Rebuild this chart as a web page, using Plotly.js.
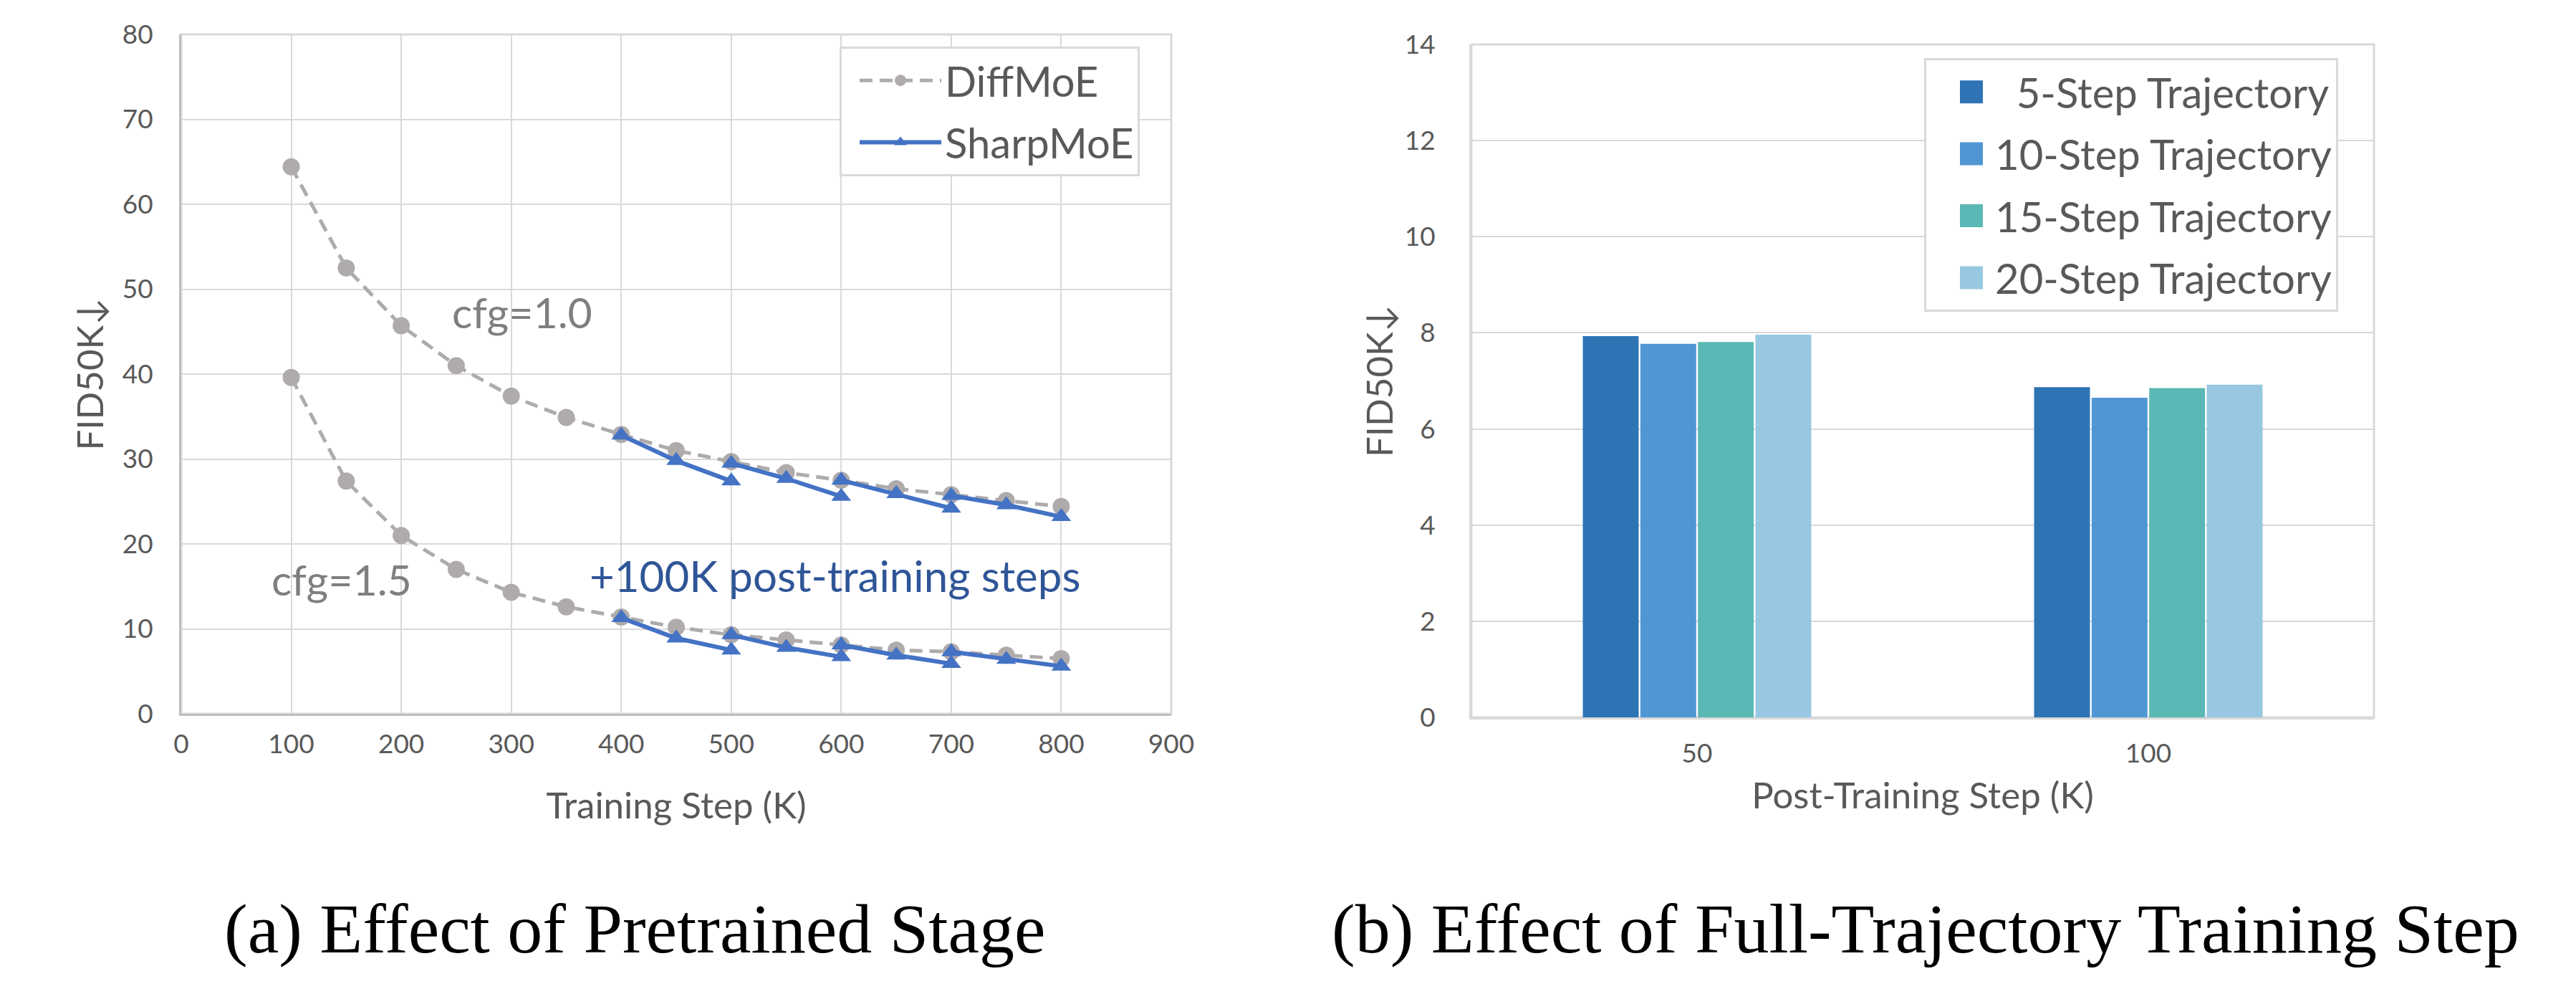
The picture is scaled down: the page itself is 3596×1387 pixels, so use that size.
<!DOCTYPE html>
<html><head><meta charset="utf-8">
<script src="https://cdn.plot.ly/plotly-3.0.1.min.js"></script>
<style>
html,body{margin:0;padding:0;background:#fff}
#chart{width:3596px;height:1387px}
g.legendpoints path[d="M6,6H-6V-6H6Z"]{d:path('M16,16H-16V-16H16Z');}
</style>
</head><body><div id="chart"></div>
<script>
// ---- data: (a) pretrained stage ----
const steps = [100,150,200,250,300,350,400,450,500,550,600,650,700,750,800];
const diffCfg10 = [64.4,52.5,45.7,41.0,37.4,34.9,32.9,31.0,29.7,28.4,27.5,26.5,25.8,25.1,24.4];
const diffCfg15 = [39.6,27.4,21.0,17.0,14.3,12.6,11.4,10.2,9.3,8.7,8.1,7.5,7.3,6.9,6.5];
// SharpMoE: +100K post-training segments starting from the 400/500/600/700K checkpoints
const sharpSteps = [400,450,500,null,500,550,600,null,600,650,700,null,700,750,800];
const sharpCfg10 = [32.8,29.8,27.4,null,29.5,27.7,25.6,null,27.5,25.9,24.2,null,25.7,24.6,23.2];
const sharpCfg15 = [11.3,8.9,7.5,null,9.3,7.8,6.7,null,8.1,6.9,5.9,null,7.3,6.4,5.6];
// ---- data: (b) full-trajectory training step ----
const postSteps = ['50','100'];
const traj5 = [7.93,6.87];
const traj10 = [7.77,6.65];
const traj15 = [7.81,6.85];
const traj20 = [7.96,6.92];
const trajNames = ['\u00A0\u00A05-Step Trajectory','10-Step Trajectory','15-Step Trajectory','20-Step Trajectory'];
const trajColors = ['#2E74B5','#5096D2','#5BB8B4','#98C8E1'];

const GRAY = '#AFABAB', BLUE = '#4472C4', TXT = '#595959';
const FONT = 'Lato, "Open Sans", sans-serif';

const diffStyle = {mode:'lines+markers', line:{color:GRAY, width:5, dash:'18px,10px'},
  marker:{symbol:'circle', size:24, color:GRAY}, xaxis:'x', yaxis:'y', legend:'legend'};
const sharpStyle = {mode:'lines+markers', line:{color:BLUE, width:6}, connectgaps:false,
  marker:{symbol:'triangle-up', size:24, color:BLUE}, xaxis:'x', yaxis:'y', legend:'legend'};

const traces = [
  Object.assign({x:steps, y:diffCfg10, name:'DiffMoE', legendgroup:'d', showlegend:true}, diffStyle),
  Object.assign({x:steps, y:diffCfg15, name:'DiffMoE', legendgroup:'d', showlegend:false}, diffStyle),
  Object.assign({x:sharpSteps, y:sharpCfg10, name:'SharpMoE', legendgroup:'s', showlegend:true}, sharpStyle),
  Object.assign({x:sharpSteps, y:sharpCfg15, name:'SharpMoE', legendgroup:'s', showlegend:false}, sharpStyle)
];
[traj5,traj10,traj15,traj20].forEach((vals,i)=>{
  traces.push({type:'bar', x:postSteps, y:vals, name:trajNames[i], legendgroup:'t'+i,
    marker:{color:trajColors[i]}, xaxis:'x2', yaxis:'y2', legend:'legend2'});
});

const W = 3596, H = 1387;
const tickFont = {family:FONT, size:37, color:TXT};
const titleFont = {family:FONT, size:51, color:TXT};
const capFont = {family:'"Liberation Serif", "Times New Roman", serif', size:98, color:'#000'};

const layout = {
  width:W, height:H, margin:{l:0,r:0,t:0,b:0}, paper_bgcolor:'#fff', plot_bgcolor:'#fff',
  showlegend:true, barmode:'group', bargap:0.49, bargroupgap:0.03,
  xaxis:{domain:[253/W,1635/W], range:[0,900], dtick:100, tick0:0, showgrid:true, gridcolor:'#D9D9D9', gridwidth:2,
    showline:true, linecolor:'#BFBFBF', linewidth:3, zeroline:false, ticks:'', tickfont:tickFont, ticklabelstandoff:8,
    title:{text:'Training Step (K)', font:titleFont, standoff:48}, fixedrange:true},
  yaxis:{domain:[1-996/H,1-48/H], range:[0,80], dtick:10, showgrid:true, gridcolor:'#D9D9D9', gridwidth:2,
    showline:true, linecolor:'#BFBFBF', linewidth:3, zeroline:false, ticks:'', tickfont:tickFont, ticklabelstandoff:29,
    title:{text:'FID50K\u2193', font:titleFont, standoff:10}, fixedrange:true},
  xaxis2:{domain:[2054/W,3314/W], type:'category', showgrid:false, showline:true, linecolor:'#D9D9D9', linewidth:3,
    zeroline:false, ticks:'', tickfont:tickFont, ticklabelstandoff:16, anchor:'y2',
    title:{text:'Post-Training Step (K)', font:titleFont, standoff:21}, fixedrange:true},
  yaxis2:{domain:[1-1001/H,1-62/H], range:[0,14], dtick:2, showgrid:true, gridcolor:'#D9D9D9', gridwidth:2,
    showline:true, linecolor:'#D9D9D9', linewidth:3, zeroline:false, ticks:'', tickfont:tickFont, ticklabelstandoff:40,
    anchor:'x2', title:{text:'FID50K\u2193', font:titleFont, standoff:0}, fixedrange:true},
  legend:{x:1172/W, y:1-65/H, xanchor:'left', yanchor:'top', bgcolor:'#fff', bordercolor:'#D9D9D9', borderwidth:3,
    font:{family:FONT, size:58, color:TXT}, itemwidth:114, traceorder:'grouped', tracegroupgap:8, indentation:20},
  legend2:{x:2686/W, y:1-81/H, xanchor:'left', yanchor:'top', bgcolor:'#fff', bordercolor:'#D9D9D9', borderwidth:3,
    font:{family:FONT, size:58, color:TXT}, itemwidth:56, traceorder:'grouped', tracegroupgap:8, indentation:30},
  shapes:[
    {type:'rect', xref:'x domain', yref:'y domain', x0:0, x1:1, y0:0, y1:1, line:{color:'#D9D9D9', width:3}, layer:'below'},
    {type:'rect', xref:'x2 domain', yref:'y2 domain', x0:0, x1:1, y0:0, y1:1, line:{color:'#D9D9D9', width:3}, layer:'below'}
  ],
  annotations:[
    {text:'cfg=1.0', x:310, y:47.3, xref:'x', yref:'y', showarrow:false, xanchor:'center', font:{family:FONT, size:59, color:'#7F7F7F'}},
    {text:'cfg=1.5', x:146, y:15.8, xref:'x', yref:'y', showarrow:false, xanchor:'center', font:{family:FONT, size:59, color:'#7F7F7F'}},
    {text:'+100K post-training steps', x:594, y:16.3, xref:'x', yref:'y', showarrow:false, xanchor:'center', font:{family:FONT, size:60, color:'#2F5597'}},
    {text:'(a) Effect of Pretrained Stage', x:886/W, y:1-1296/H, xref:'paper', yref:'paper', showarrow:false,
      xanchor:'center', yanchor:'middle', font:capFont},
    {text:'(b) Effect of Full-Trajectory Training Step', x:2688/W, y:1-1296/H, xref:'paper', yref:'paper', showarrow:false,
      xanchor:'center', yanchor:'middle', font:capFont}
  ]
};

function growLegendBars(){
  document.querySelectorAll('g.legendpoints path').forEach(p=>{
    const d = (p.getAttribute('d')||'').replace(/\s/g,'');
    if(d==='M6,6H-6V-6H6Z') p.setAttribute('d','M16,16H-16V-16H16Z');
  });
}
Plotly.newPlot('chart', traces, layout, {staticPlot:true, displayModeBar:false}).then(()=>{
  growLegendBars();
  setTimeout(growLegendBars, 50);
});
</script></body></html>
